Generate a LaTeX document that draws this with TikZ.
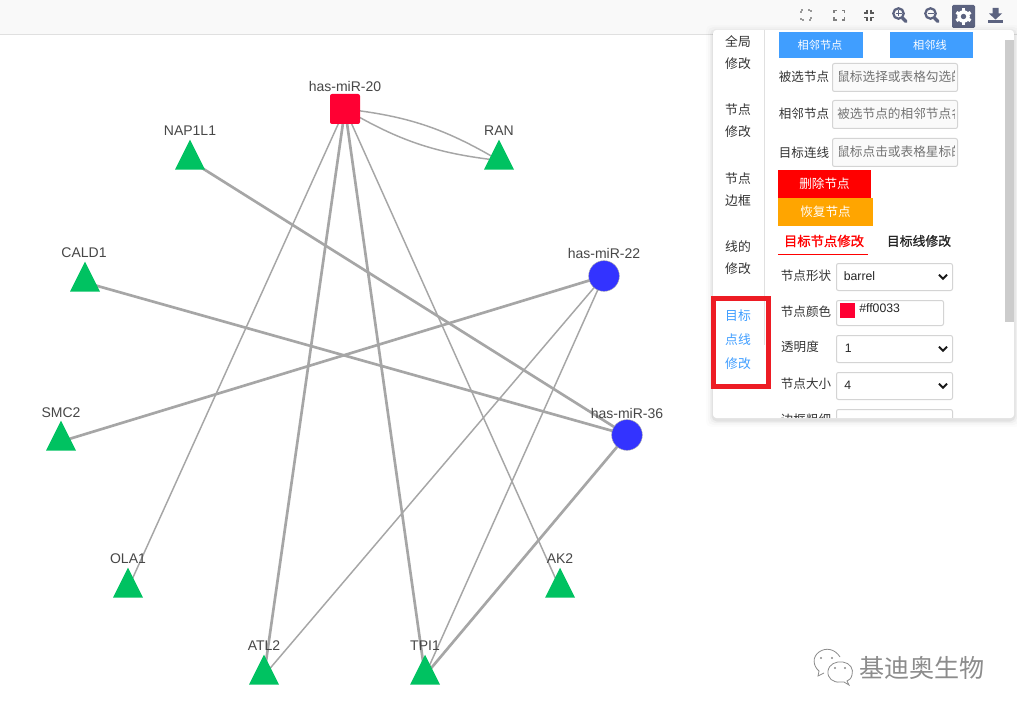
\documentclass[tikz,border=0pt]{standalone}
\usepackage{fontspec}
\setmainfont{Liberation Sans}
\newfontfamily\cjk{Noto Sans CJK SC}
\usetikzlibrary{shapes.geometric,backgrounds}
\newcommand{\fsz}[1]{\fontsize{#1}{#1}\selectfont}
\definecolor{edgegray}{HTML}{A6A6A6}
\definecolor{trigreen}{HTML}{00C261}
\definecolor{mirblue}{HTML}{3333FF}
\definecolor{mirred}{HTML}{FF0033}
\definecolor{btnblue}{HTML}{409EFF}
\definecolor{txt}{HTML}{333333}
\definecolor{boxline}{HTML}{D4D4D4}
\definecolor{icon}{HTML}{5C6380}
\definecolor{markred}{HTML}{ED1C24}
\definecolor{btnorange}{HTML}{FFA500}
\tikzset{
  x=0.75pt,y=-0.75pt,
  tri/.style={isosceles triangle,isosceles triangle apex angle=53.13,shape border rotate=90,
    fill=trigreen,draw=none,inner sep=0pt,minimum height=22.5pt,minimum width=22.5pt,anchor=lower side},
  mir/.style={circle,fill=mirblue,draw=gray!70,line width=.3pt,inner sep=0pt,minimum size=23pt},
  glabel/.style={font=\fsz{10.5pt},text=black!72,inner sep=0pt},
  thinedge/.style={draw=edgegray,line width=1.1pt},
  thickedge/.style={draw=edgegray,line width=2pt},
  menu/.style={font=\cjk\fsz{9.6pt},text=txt,inner sep=0pt},
  menublue/.style={font=\cjk\fsz{9.6pt},text=btnblue,inner sep=0pt},
  flabel/.style={font=\cjk\fsz{9.4pt},text=txt,inner sep=0pt},
  btxt/.style={font=\cjk\fsz{8.4pt},text=white,inner sep=0pt},
  rtxt/.style={font=\cjk\fsz{9.4pt},text=white,inner sep=0pt},
  phold/.style={font=\cjk\fsz{9.5pt},text=black!55,inner sep=0pt,anchor=west},
  inbox/.style={draw=boxline,line width=.75pt,rounded corners=1.5pt},
  chev/.style={draw=black!90,line width=1.4pt},
  ic/.style={draw=icon,line width=1.7pt},
  ic2/.style={draw=black!50,line width=1pt},
  sel/.style={font=\fsz{9.2pt},text=black!85,inner sep=0pt,anchor=west}
}
\begin{document}
\begin{tikzpicture}
\useasboundingbox (0,0) rectangle (1017,713);
% graph nodes
\node[fill=mirred,rounded corners=1.5pt,minimum size=22.5pt,inner sep=0pt] (m20) at (345,109) {};
\node[mir] (m22) at (604,276) {};
\node[mir] (m36) at (627,435) {};
\node[tri] (nap) at (190,170) {};
\node[tri] (ran) at (499,170) {};
\node[tri] (cald) at (85,292) {};
\node[tri] (smc) at (61,451) {};
\node[tri] (ola) at (128,598) {};
\node[tri] (ak) at (560,598) {};
\node[tri] (atl) at (264,685) {};
\node[tri] (tpi) at (425,685) {};
\begin{scope}[on background layer]
\fill[white] (0,0) rectangle (1017,713);
\fill[black!2.5] (0,0) rectangle (1017,35);
\draw[black!12,line width=.75pt] (0,35) -- (1017,35);
\path[thinedge] (m20.center) -- (ola.center);
\path[thinedge] (m20.center) -- (ak.center);
\path[thickedge] (m20.center) -- (atl.center);
\path[thickedge] (m20.center) -- (tpi.center);
\path[thinedge] (m20.center) to[bend left=12] (ran.center);
\path[thinedge] (m20.center) to[bend right=12] (ran.center);
\path[thickedge] (nap.center) -- (m36.center);
\path[thickedge] (cald.center) -- (m36.center);
\path[thickedge] (smc.center) -- (m22.center);
\path[thinedge] (m22.center) -- (atl.center);
\path[thinedge] (m22.center) -- (tpi.center);
\path[thickedge] (m36.center) -- (tpi.center);
\end{scope}
\node[glabel] (l20) at (345,86) {has-miR-20};
\node[glabel] (lnap) at (190,131) {NAP1L1};
\node[glabel] (lran) at (499,131) {RAN};
\node[glabel] (lcald) at (84,253) {CALD1};
\node[glabel] (l22) at (604,253) {has-miR-22};
\node[glabel] (lsmc) at (61,413) {SMC2};
\node[glabel] (l36) at (627,413) {has-miR-36};
\node[glabel] (lola) at (128,559) {OLA1};
\node[glabel] (lak) at (560,559) {AK2};
\node[glabel] (latl) at (264,646) {ATL2};
\node[glabel] (ltpi) at (425,646) {TPI1};
% toolbar icons
\draw[ic2,line width=.9pt,black!40,dash pattern=on 1.6pt off .8pt] (801,13)--(801,10)--(804,10) (808,10)--(811,10)--(811,13) (811,17)--(811,20)--(808,20) (804,20)--(801,20)--(801,17);
\draw[ic2] (834,13)--(834,10.5)--(837,10.5) (842,10.5)--(844.5,10.5)--(844.5,13) (844.5,17.5)--(844.5,20)--(842,20) (837,20)--(834,20)--(834,17.5);
\draw[ic2,black!65] (867,10)--(867,13)--(864,13) (871,10)--(871,13)--(874,13) (874,17.5)--(871,17.5)--(871,21) (867,21)--(867,17.5)--(864,17.5);
\draw[ic] (898.5,13.5) circle (5.2);
\draw[icon,line width=2.6pt,line cap=round] (902.5,18)--(906,21.5);
\draw[icon,line width=1.3pt] (895.5,13.5)--(901.5,13.5) (898.5,10.5)--(898.5,16.5);
\draw[ic] (930.5,13.5) circle (5.2);
\draw[icon,line width=2.6pt,line cap=round] (934.5,18)--(938,21.5);
\draw[icon,line width=1.3pt] (927.5,13.5)--(933.5,13.5);
\fill[icon,rounded corners=1pt] (952,5) rectangle (975,28);
\fill[white] (963.5,16.5) circle (6.3);
\foreach \a in {0,60,120}{
  \draw[white,line width=2.4pt,rotate around={\a:(963.5,16.5)}] (963.5,8.3)--(963.5,24.7);
}
\fill[icon] (963.5,16.5) circle (2.7);
\fill[icon] (992.5,8)--(998.5,8)--(998.5,13.5)--(1002,13.5)--(995.5,19.5)--(989,13.5)--(992.5,13.5)--cycle;
\fill[icon] (987.5,20.5) rectangle (1002.5,23.5);
% panel shadow
\foreach \d/\op in {7/.012,5/.02,3/.03,1.5/.05}{
  \fill[black,opacity=\op,rounded corners=4pt] (713-\d,30-\d+2) rectangle (1014+\d,418+\d+2);
}
\fill[white,rounded corners=2.5pt] (713,30) rectangle (1014,418);
% panel separator and scrollbar
\draw[black!12,line width=.75pt] (764,30) -- (764,345);
\fill[black!20] (1005,40) rectangle (1014,322);
% left menu
\node[menu] (a1) at (738,41.5) {全局};
\node[menu] (a2) at (738,63.5) {修改};
\node[menu] (b1) at (738,109.5) {节点};
\node[menu] (b2) at (738,131.5) {修改};
\node[menu] (c1) at (738,178.5) {节点};
\node[menu] (c2) at (738,200.5) {边框};
\node[menu] (d1) at (738,246.5) {线的};
\node[menu] (d2) at (738,268.5) {修改};
\node[menublue] (e1) at (738,315.5) {目标};
\node[menublue] (e2) at (738,339.5) {点线};
\node[menublue] (e3) at (738,363.5) {修改};
\draw[markred,line width=4.1pt] (713.7,298.7) rectangle (768.3,386.3);
% top buttons
\fill[btnblue] (779,32) rectangle (863,58);
\node[btxt] (bt1) at (820,45) {相邻节点};
\fill[btnblue] (890,32) rectangle (973,58);
\node[btxt] (bt2) at (930,45) {相邻线};
% input fields
\node[flabel] (f1) at (804,76.5) {被选节点};
\node[flabel] (f2) at (804,113.5) {相邻节点};
\node[flabel] (f3) at (804,152.5) {目标连线};
\foreach \yt/\yb in {63/91,100/128,138/166}{
  \filldraw[inbox,fill=black!2] (832.5,\yt.5) rectangle (957.5,\yb.5);
}
\begin{scope}
\clip (835,60) rectangle (954,170);
\node[phold] (p1) at (837,77) {鼠标选择或表格勾选的};
\node[phold] (p2) at (837,114) {被选节点的相邻节点名};
\node[phold] (p3) at (837,152) {鼠标点击或表格星标的};
\end{scope}
% delete / restore
\fill[red] (778,170) rectangle (871,198);
\node[rtxt] (del) at (824.5,183.5) {删除节点};
\fill[btnorange] (778,198) rectangle (873,226);
\node[rtxt] (res) at (825.5,211.5) {恢复节点};
% tabs
\node[font=\cjk\fsz{10pt},text=red,inner sep=0pt] (t1) at (824,241) {\addfontfeature{FakeBold=1.2}目标节点修改};
\draw[red,line width=.9pt] (778,254.5) -- (868,254.5);
\node[font=\cjk\fsz{9.6pt},text=black!85,inner sep=0pt] (t2) at (919,241) {\addfontfeature{FakeBold=1.2}目标线修改};
% form
\node[flabel] (g1) at (806,276) {节点形状};
\node[flabel] (g2) at (806,311.5) {节点颜色};
\node[flabel] (g3) at (800,347) {透明度};
\node[flabel] (g4) at (806,384) {节点大小};
\foreach \yt/\yb in {263/290,335/362,372/399}{
  \draw[inbox] (836.5,\yt.5) rectangle (952.5,\yb.5);
}
\draw[inbox] (836.5,300.5) rectangle (943.5,325.5);
\fill[mirred] (840,303) rectangle (855,318);
\node[sel] (v1) at (843.5,276) {barrel};
\node[sel] (v2) at (859,308.5) {\#ff0033};
\node[sel] (v3) at (844.5,348) {1};
\node[sel] (v4) at (844,385) {4};
\foreach \yc in {277,349,386}{
  \draw[chev] (939,\yc-2.3) -- (943,\yc+1.7) -- (947,\yc-2.3);
}
\begin{scope}
\clip (765,400) rectangle (1005,417.5);
\node[flabel] (g5) at (806,420) {边框粗细};
\draw[inbox] (836.5,409.5) rectangle (952.5,436.5);
\end{scope}
% watermark
\draw[black!45,line width=.6pt] (819,671) .. controls (813,666) and (812,657) .. (819,652) .. controls (826,647) and (835,649) .. (840,657);
\draw[black!45,line width=.6pt] (819,671) -- (818,676) -- (824,673);
\draw[black!45,line width=.6pt] (840.5,682) .. controls (833,683) and (827,678) .. (828,671) .. controls (829,664) and (836,661) .. (843,662) .. controls (850,663) and (854,669) .. (852,675) .. controls (851,679) and (849,680) .. (847,681) -- (849,685) -- (844,682) -- cycle;
\foreach \ex/\ey in {821/658,832/658,835/668,845/668}{\fill[black!45] (\ex,\ey) circle (1.1);}
\node[font=\cjk\fsz{18.8pt},text=black!45,inner sep=0pt] (wm) at (922,668) {基迪奥生物};
\end{tikzpicture}
\end{document}
